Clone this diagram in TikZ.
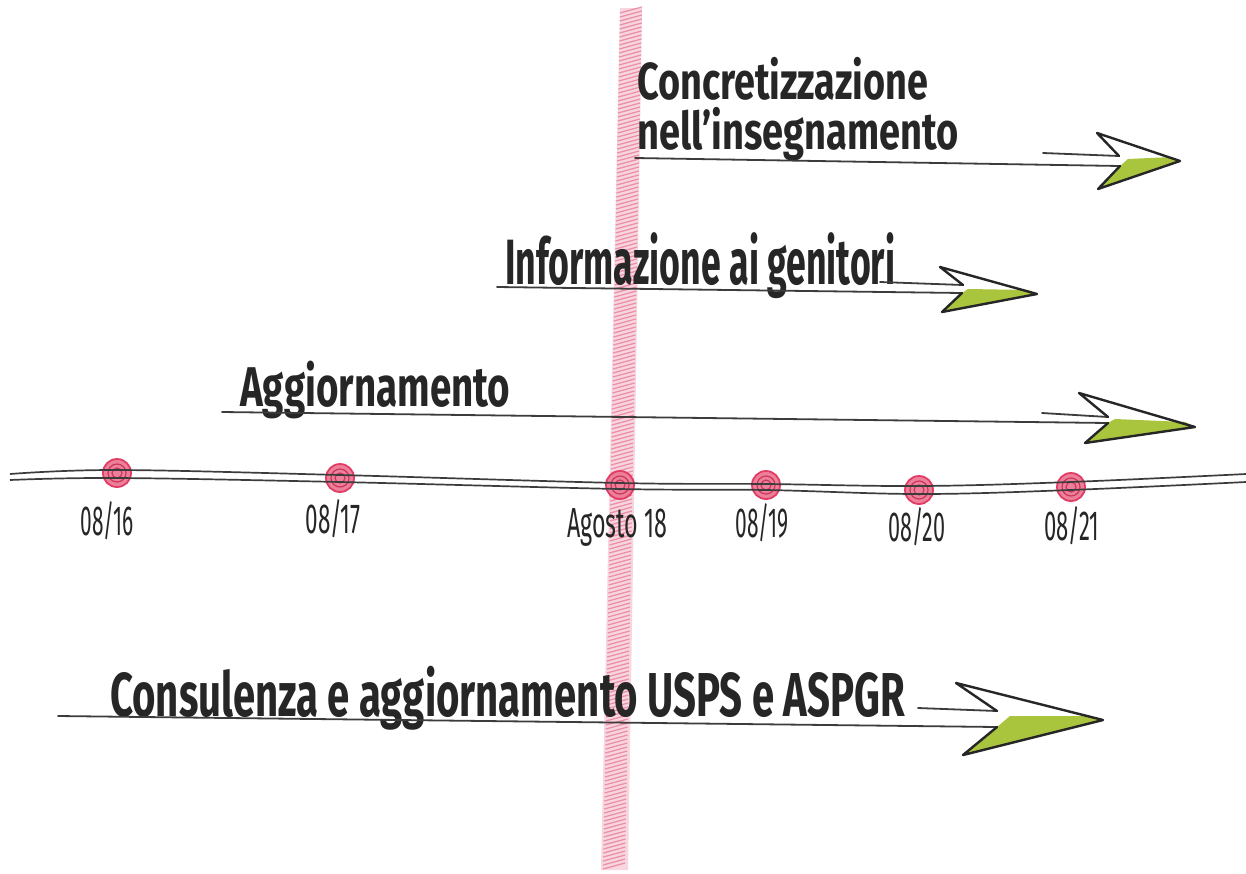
\documentclass[tikz,border=0pt]{standalone}
\usepackage{fontspec}
\setmainfont{Fira Sans}
\usepackage{graphicx}
\definecolor{ink}{RGB}{38,38,38}
\definecolor{lineink}{RGB}{60,60,60}
\definecolor{bandpink}{RGB}{232,120,150}
\definecolor{dotpink}{RGB}{226,60,100}
\definecolor{leaf}{RGB}{160,190,40}
\newcommand\fitw[2]{\resizebox{#1pt}{\height}{#2}}
\tikzset{
  biglabel/.style={anchor=base west, inner sep=0pt, text=ink, font=\fontsize{#1}{#1}\selectfont\bfseries},
  biglabel/.default=54,
  datelabel/.style={anchor=base, inner sep=0pt, text=ink, font=\fontsize{42}{46}\selectfont},
  shaft/.style={draw=lineink, line width=1.8pt, line cap=round},
  headline/.style={draw=ink, line width=2.4pt, line join=round, line cap=round},
  greenfill/.style={fill=leaf, opacity=0.9},
  tline/.style={draw=lineink, line width=1.7pt},
  dotstyle/.style={circle, inner sep=0pt, minimum size=28pt, fill=dotpink!65, draw=dotpink, line width=1.8pt},
  ring/.style={draw=dotpink!90!black, line width=1.2pt}
}
\begin{document}
\begin{tikzpicture}[x=1pt,y=-1pt]
\useasboundingbox (0,0) rectangle (1246,873);
\fill[white] (0,0) rectangle (1246,873);

% vertical pink band
\fill[bandpink, opacity=0.3] (620,8) -- (642,8) -- (628,870) -- (601,870) -- cycle;
\foreach \yy in {10,14,...,866}{
  \pgfmathsetmacro\cx{631-17*(\yy-10)/856}
  \draw[bandpink, opacity=0.75, line width=1.3pt] ({\cx-11},{\yy+3}) -- ({\cx+11},{\yy-3});
}

% timeline dots
\foreach \n/\x/\y in {16/117/473, 17/340/478, 18/620/485, 19/766/485, 20/919/490, 21/1071/487}{
  \node[dotstyle] (d\n) at (\x,\y) {};
  \draw[ring] (\x,\y) circle (9pt);
  \draw[ring] (\x,\y) circle (5pt);
}

% timeline double line
\draw[tline] plot[smooth, tension=0.6] coordinates {(10,474) (117,470) (340,475) (620,483) (766,484) (920,486) (1070,482) (1246,474)};
\draw[tline] plot[smooth, tension=0.6] coordinates {(10,480) (117,478) (340,482) (620,489) (766,490) (920,494) (1070,490) (1246,482)};

% date labels
\node[datelabel] (l16) at (107,535) {\fitw{53}{08/16}};
\node[datelabel] (l17) at (333,533) {\fitw{55}{08/17}};
\node[datelabel] (l18) at (617,537) {\fitw{100}{Agosto 18}};
\node[datelabel] (l19) at (762,537) {\fitw{53}{08/19}};
\node[datelabel] (l20) at (917,541) {\fitw{57}{08/20}};
\node[datelabel] (l21) at (1072,540) {\fitw{55}{08/21}};

% ---------- Arrow 1: Concretizzazione
\node[biglabel=52] (t1a) at (637,99) {\fitw{291}{Concretizzazione}};
\node[biglabel=52] (t1b) at (637,149) {\fitw{321}{nell'insegnamento}};
\coordinate (a1s) at (635,158);
\coordinate (a1ln) at (1120,166);
\coordinate (a1us) at (1043,153);
\coordinate (a1un) at (1119,156);
\coordinate (a1tb) at (1097,133);
\coordinate (a1tip) at (1180,161);
\coordinate (a1bb) at (1098,189);
\fill[greenfill] (a1bb) -- (a1ln) -- (1128,159) -- (1172,157) -- (a1tip) -- cycle;
\draw[shaft] (a1s) -- (a1ln);
\draw[shaft] (a1us) -- (a1un);
\draw[headline] (a1un) -- (a1tb) -- (a1tip) -- (a1bb) -- (a1ln);

% ---------- Arrow 2: Informazione ai genitori
\node[biglabel=64] (t2) at (505,284) {\fitw{390}{Informazione ai genitori}};
\coordinate (a2s) at (497,287);
\coordinate (a2ln) at (962,293);
\coordinate (a2us) at (880,282);
\coordinate (a2un) at (963,285);
\coordinate (a2tb) at (940,267);
\coordinate (a2tip) at (1037,294);
\coordinate (a2bb) at (942,312);
\fill[greenfill] (a2bb) -- (a2ln) -- (968,289) -- (1028,290) -- (a2tip) -- cycle;
\draw[shaft] (a2s) -- (a2ln);
\draw[shaft] (a2us) -- (a2un);
\draw[headline] (a2un) -- (a2tb) -- (a2tip) -- (a2bb) -- (a2ln);

% ---------- Arrow 3: Aggiornamento
\node[biglabel=56] (t3) at (240,406) {\fitw{270}{Aggiornamento}};
\coordinate (a3s) at (222,412);
\coordinate (a3ln) at (1108,423);
\coordinate (a3us) at (1042,413);
\coordinate (a3un) at (1108,417);
\coordinate (a3tb) at (1079,393);
\coordinate (a3tip) at (1195,427);
\coordinate (a3bb) at (1085,443);
\fill[greenfill] (a3bb) -- (a3ln) -- (1115,419) -- (1185,422) -- (a3tip) -- cycle;
\draw[shaft] (a3s) -- (a3ln);
\draw[shaft] (a3us) -- (a3un);
\draw[headline] (a3un) -- (a3tb) -- (a3tip) -- (a3bb) -- (a3ln);

% ---------- Arrow 4: Consulenza
\node[biglabel=62] (t4) at (110,716) {\fitw{795}{Consulenza e aggiornamento USPS e ASPGR}};
\coordinate (a4s) at (58,716);
\coordinate (a4ln) at (997,727);
\coordinate (a4us) at (918,708);
\coordinate (a4un) at (997,711);
\coordinate (a4tb) at (956,683);
\coordinate (a4tip) at (1103,720);
\coordinate (a4bb) at (963,755);
\fill[greenfill] (a4bb) -- (a4ln) -- (1010,716) -- (1090,716) -- (a4tip) -- cycle;
\draw[shaft] (a4s) -- (a4ln);
\draw[shaft] (a4us) -- (a4un);
\draw[headline] (a4un) -- (a4tb) -- (a4tip) -- (a4bb) -- (a4ln);
\end{tikzpicture}
\end{document}
